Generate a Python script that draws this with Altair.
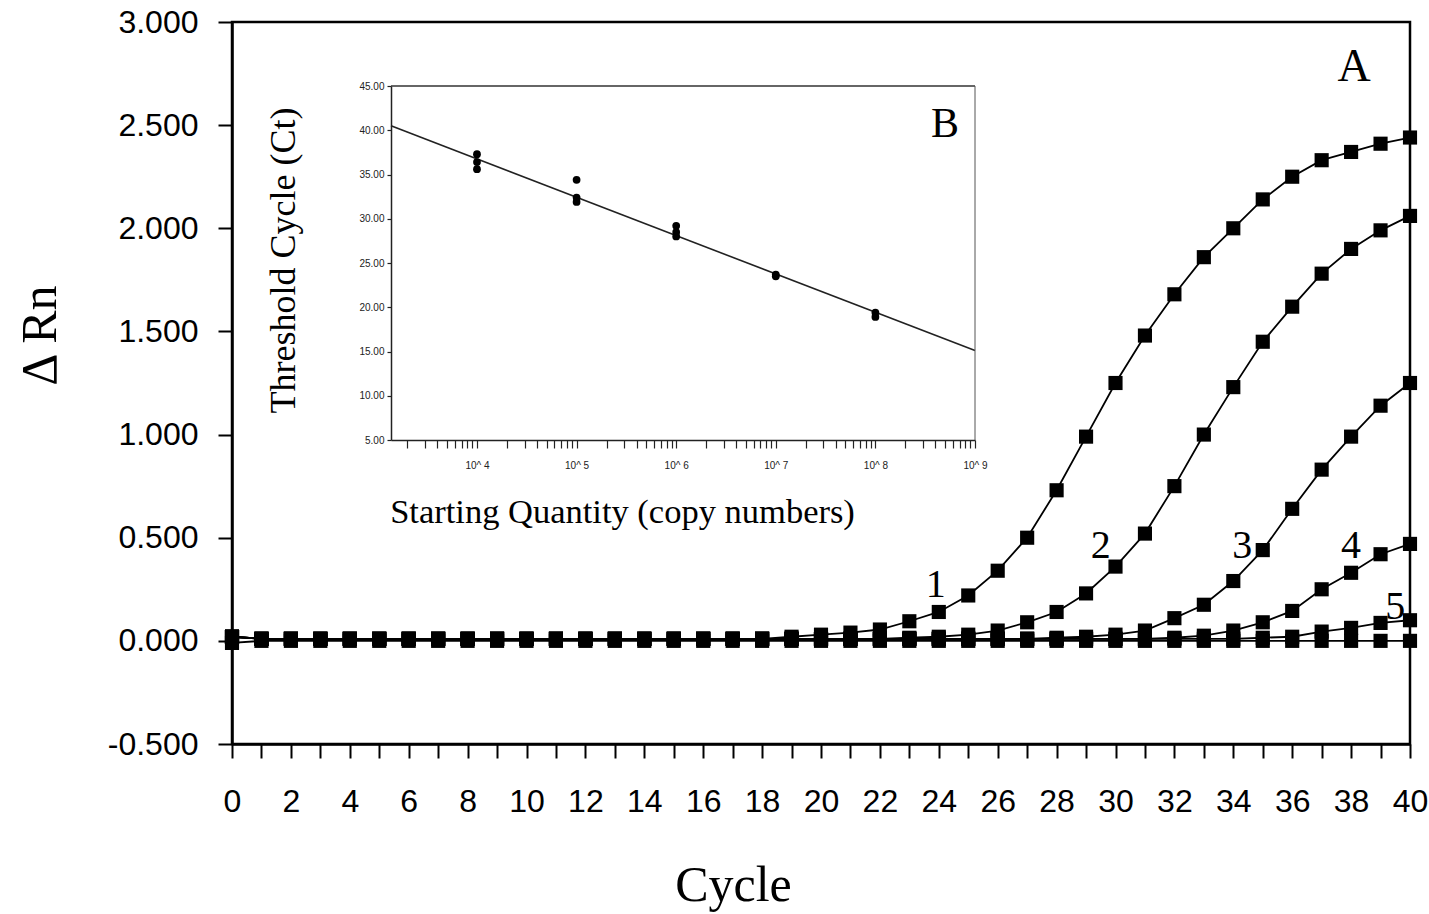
import altair as alt
import pandas as pd

# ---------------- main panel (A) data ----------------
cycles = list(range(0, 41))

curve1 = [0.02] + [0.01] * 18 + [0.02, 0.03, 0.04, 0.055, 0.095, 0.14, 0.22, 0.34, 0.50, 0.73,
                                 0.99, 1.25, 1.48, 1.68, 1.86, 2.00, 2.14, 2.25, 2.33, 2.37, 2.41, 2.44]
curve2 = [0.02] + [0.01] * 22 + [0.015, 0.02, 0.03, 0.05, 0.09, 0.14, 0.23, 0.36, 0.52, 0.75,
                                 1.00, 1.23, 1.45, 1.62, 1.78, 1.90, 1.99, 2.06]
curve3 = [0.02] + [0.01] * 27 + [0.015, 0.02, 0.03, 0.05, 0.11, 0.175, 0.29, 0.44, 0.64, 0.83,
                                 0.99, 1.14, 1.25]
curve4 = [0.02] + [0.01] * 31 + [0.015, 0.025, 0.05, 0.09, 0.145, 0.25, 0.33, 0.42, 0.47]
curve5 = [0.02] + [0.01] * 34 + [0.015, 0.02, 0.045, 0.063, 0.087, 0.10]
ntc = [-0.01] + [0.0] * 40

series_names = ["1", "2", "3", "4", "5", "NTC"]
series_values = [curve1, curve2, curve3, curve4, curve5, ntc]

curve_labels = ["1", "2", "3", "4", "5"]
curve_label_cycle = [23.9, 29.5, 34.3, 38.0, 39.5]
curve_label_value = [0.27, 0.46, 0.46, 0.46, 0.165]

y_ticks = [-0.5, 0.0, 0.5, 1.0, 1.5, 2.0, 2.5, 3.0]

# ---------------- inset (B) data ----------------
quantity = [1e4, 1e4, 1e4, 1e5, 1e5, 1e5, 1e6, 1e6, 1e6, 1e7, 1e7, 1e8, 1e8]
ct_value = [37.3, 36.4, 35.6, 34.4, 32.4, 31.9, 29.2, 28.5, 28.0, 23.7, 23.5, 19.4, 18.9]
fit_quantity = [1370, 1e9]
fit_ct = [40.5, 15.1]
inset_y_ticks = [5, 10, 15, 20, 25, 30, 35, 40, 45]

rows = []
for name, vals in zip(series_names, series_values):
    for c, v in zip(cycles, vals):
        rows.append({"cycle": c, "drn": v, "series": name})
main_df = pd.DataFrame(rows)
lab_df = pd.DataFrame({"cycle": curve_label_cycle, "drn": curve_label_value, "txt": curve_labels})
a_df = pd.DataFrame({"cycle": [38.1], "drn": [2.78], "txt": ["A"]})

pts_df = pd.DataFrame({"qty": quantity, "ct": ct_value})
fit_df = pd.DataFrame({"qty": fit_quantity, "ct": fit_ct})
top_df = pd.DataFrame({"qty": [fit_quantity[0]], "qty2": [fit_quantity[1]], "ct": [45]})
right_df = pd.DataFrame({"qty": [fit_quantity[1]], "ct": [5], "ct2": [45]})
b_df = pd.DataFrame({"qty": [5.0e8], "ct": [40.7], "txt": ["B"]})

inset_x_vals = [k * 10 ** n for n in range(3, 9) for k in range(1, 10) if k * 10 ** n >= 1370] + [1e9]

W, H = 1178, 722
SANS = "Liberation Sans"
SERIF = "Liberation Serif"

xs = alt.Scale(domain=[0, 40], nice=False, zero=False)
ys = alt.Scale(domain=[-0.5, 3.0], nice=False, zero=False)

x_axis = alt.Axis(
    values=cycles, labelExpr="datum.value % 2 == 0 ? datum.label : ''",
    tickSize=14, tickWidth=2, tickColor="black", domainColor="black", domainWidth=2.5,
    labelFont=SANS, labelFontSize=32, labelColor="black", labelPadding=28, labelOverlap=False,
    labelFlush=False, grid=False,
    title="Cycle", titleFont=SERIF, titleFontSize=50, titleFontWeight="normal", titleColor="black",
    titleX=501, titleY=141, titleBaseline="middle", titleAlign="center",
)
y_axis = alt.Axis(
    values=y_ticks, format=".3f", labelExpr="replace(datum.label, '\u2212', '-')",
    tickSize=14, tickWidth=2, tickColor="black", domainColor="black", domainWidth=2.5,
    labelFont=SANS, labelFontSize=32, labelColor="black", labelPadding=20, labelOverlap=False,
    labelFlush=False, grid=False,
    title="Δ Rn", titleFont=SERIF, titleFontSize=50, titleFontWeight="normal", titleColor="black",
    titleX=-192, titleY=313, titleBaseline="middle", titleAlign="center", titleAngle=270,
)

mx = alt.X("cycle:Q", scale=xs, axis=x_axis)
my = alt.Y("drn:Q", scale=ys, axis=y_axis)

lines = alt.Chart(main_df).mark_line(color="black", strokeWidth=1.8).encode(
    x=mx, y=my, detail="series:N",
)
points = alt.Chart(main_df).mark_point(shape="square", filled=True, color="black", size=200, opacity=1).encode(
    x=mx, y=my, detail="series:N",
)
num_labels = alt.Chart(lab_df).mark_text(font=SERIF, fontSize=40, color="black", align="center", baseline="middle").encode(
    x=mx, y=my, text="txt:N",
)
a_label = alt.Chart(a_df).mark_text(font=SERIF, fontSize=46, color="black", align="center", baseline="middle").encode(
    x=mx, y=my, text="txt:N",
)
main = alt.layer(lines, points, num_labels, a_label)

# inset scales placed in pixel ranges inside the main plot area
ixs = alt.Scale(type="log", domain=[1370, 1e9], range=[159, 743], nice=False)
iys = alt.Scale(domain=[5, 45], range=[418, 64], nice=False, zero=False)

ix_axis = alt.Axis(
    orient="bottom", offset=-304, values=inset_x_vals,
    labelExpr="abs(log(datum.value)/LN10 - round(log(datum.value)/LN10)) < 0.001 ? '10^ ' + round(log(datum.value)/LN10) : ''",
    tickSize=8, tickWidth=1.2, tickColor="#222", domainColor="#222", domainWidth=1.5,
    labelFont=SANS, labelFontSize=10, labelColor="#222", labelPadding=12, labelOverlap=False, labelFlush=False,
    grid=False,
    title="Starting Quantity (copy numbers)", titleFont=SERIF, titleFontSize=34.5, titleFontWeight="normal",
    titleColor="black", titleX=390, titleY=72, titleBaseline="middle", titleAlign="center",
)
iy_axis = alt.Axis(
    orient="left", offset=-159, values=inset_y_ticks, format=".2f",
    tickSize=4, tickWidth=1.2, tickColor="#222", domainColor="#222", domainWidth=1.5,
    labelFont=SANS, labelFontSize=10, labelColor="#222", labelPadding=3, labelOverlap=False, labelFlush=False,
    grid=False,
    title="Threshold Cycle (Ct)", titleFont=SERIF, titleFontSize=36, titleFontWeight="normal",
    titleColor="black", titleX=-108, titleY=238, titleBaseline="middle", titleAlign="center", titleAngle=270,
)

ix = alt.X("qty:Q", scale=ixs, axis=ix_axis)
iy = alt.Y("ct:Q", scale=iys, axis=iy_axis)

fit = alt.Chart(fit_df).mark_line(color="#222", strokeWidth=1.6).encode(x=ix, y=iy)
ipts = alt.Chart(pts_df).mark_point(shape="circle", filled=True, color="black", size=60, opacity=1).encode(x=ix, y=iy)
top_rule = alt.Chart(top_df).mark_rule(color="#333", strokeWidth=1.6).encode(x=ix, x2="qty2:Q", y=iy)
right_rule = alt.Chart(right_df).mark_rule(color="#555", strokeWidth=1).encode(x=ix, y=iy, y2="ct2:Q")
b_label = alt.Chart(b_df).mark_text(font=SERIF, fontSize=42, color="black", align="center", baseline="middle").encode(
    x=ix, y=iy, text="txt:N",
)
inset = alt.layer(fit, ipts, top_rule, right_rule, b_label)

chart = alt.layer(main, inset).resolve_scale(x="independent", y="independent").properties(
    width=W, height=H,
    autosize=alt.AutoSizeParams(type="none"),
    padding={"left": 232, "top": 22, "right": 19, "bottom": 170},
    background="white",
).configure_view(stroke="black", strokeWidth=2.5)

chart.save("out.html", embed_options={"renderer": "svg", "actions": False})
